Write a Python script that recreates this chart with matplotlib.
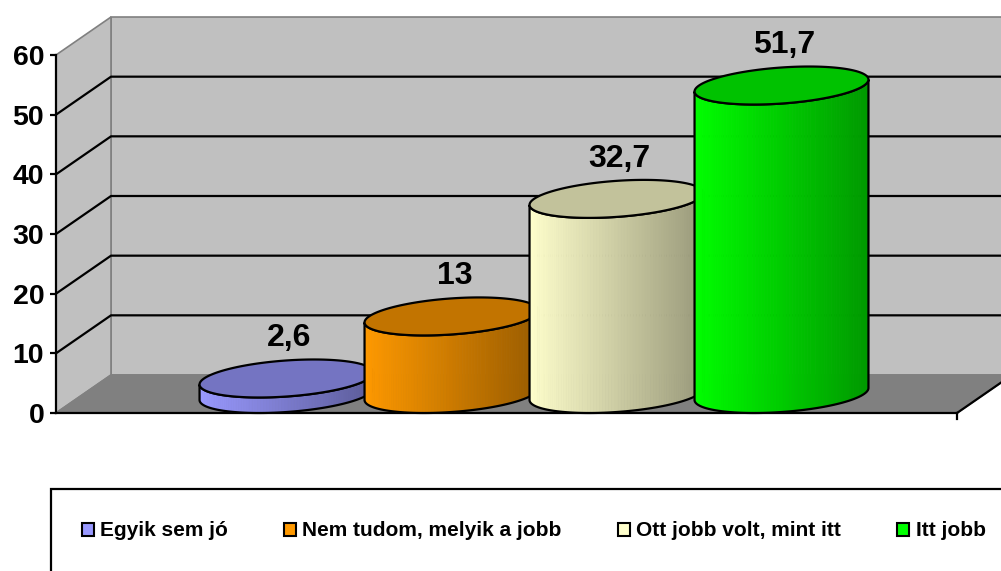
import numpy as np
import matplotlib
matplotlib.use("Agg")
import matplotlib.pyplot as plt
import matplotlib.patches as mpatches
from matplotlib.collections import PolyCollection

plt.rcParams.update({
    "font.family": ["Liberation Sans", "DejaVu Sans"],
    "font.weight": "bold",
})

# data
labels = ["Egyik sem jó", "Nem tudom, melyik a jobb", "Ott jobb volt, mint itt", "Itt jobb"]
values = [2.6, 13, 32.7, 51.7]
colors = ["#9999FF", "#FF9900", "#FFFFCC", "#00FF00"]
yticks = [0, 10, 20, 30, 40, 50, 60]

# 3d look: depth offset of the floor/back wall in data units
DX = 55 / 901          # along x (fraction of floor width)
DY = 38 / (358 / 60)   # along y (value units)
W = 165 / 901          # cylinder width

fig = plt.figure(figsize=(10.01, 5.71), dpi=100)
ax = fig.add_axes([56 / 1001, (571 - 413) / 571, 901 / 1001, 358 / 571])
ax.set_xlim(0, 1)
ax.set_ylim(0, 60)
ax.patch.set_visible(False)

wall = "#C0C0C0"
edge = "#808080"
ymax = yticks[-1]

# back wall, side wall, floor
ax.add_patch(mpatches.Polygon([(DX, DY), (DX, ymax + DY), (1 + DX, ymax + DY), (1 + DX, DY)],
                              facecolor=wall, edgecolor=edge, lw=1.2, clip_on=False, zorder=0.5))
ax.add_patch(mpatches.Polygon([(0, 0), (0, ymax), (DX, ymax + DY), (DX, DY)],
                              facecolor=wall, edgecolor=edge, lw=1.2, clip_on=False, zorder=0.5))
ax.add_patch(mpatches.Polygon([(0, 0), (1, 0), (1 + DX, DY), (DX, DY)],
                              facecolor="#808080", edgecolor=edge, lw=1.2, clip_on=False, zorder=0.6))
ax.plot([1, 1 + DX], [0, DY], color="black", lw=1.6, clip_on=False, zorder=0.7)
ax.plot([1, 1], [0, -1.0], color="black", lw=1.6, clip_on=False, zorder=0.7)

for v in yticks[1:-1]:
    ax.plot([0, DX, 1 + DX], [v, v + DY, v + DY], color="black", lw=1.6,
            clip_on=False, zorder=1)

# cylinders
th_r = np.arctan2(DX, W)
th_l = th_r + np.pi


def pt(uc, theta, level):
    x = uc + W / 2 * np.cos(theta) + DX * (0.5 + 0.5 * np.sin(theta))
    y = level + DY * (0.5 + 0.5 * np.sin(theta))
    return x, y


for i, (val, col) in enumerate(zip(values, colors)):
    uc = 0.5 + (i - 1.5) * W
    base = np.array(matplotlib.colors.to_rgb(col))
    z = 3 + i * 0.1

    th = np.linspace(th_l, th_l + np.pi, 90)
    bx, by = pt(uc, th, 0)
    tx, ty = pt(uc, th, val)
    xmin, xmax = bx.min(), bx.max()
    polys, fcs = [], []
    for k in range(len(th) - 1):
        polys.append([(bx[k], by[k]), (bx[k + 1], by[k + 1]),
                      (tx[k + 1], ty[k + 1]), (tx[k], ty[k])])
        t = ((bx[k] + bx[k + 1]) / 2 - xmin) / (xmax - xmin)
        fcs.append(np.clip(base * (1.0 - 0.4 * t), 0, 1))
    pc = PolyCollection(polys, facecolors=fcs, edgecolors=fcs, linewidths=0.6,
                        clip_on=False, zorder=z)
    ax.add_collection(pc)

    outline = list(zip(bx, by)) + list(zip(tx[::-1], ty[::-1]))
    ax.add_patch(mpatches.Polygon(outline, closed=True, fill=False, edgecolor="black",
                                  lw=1.6, clip_on=False, zorder=z + 0.01))

    ta = np.linspace(0, 2 * np.pi, 200)
    ex, ey = pt(uc, ta, val)
    ax.add_patch(mpatches.Polygon(list(zip(ex, ey)), closed=True,
                                  facecolor=np.clip(base * 0.76, 0, 1), edgecolor="black",
                                  lw=1.6, clip_on=False, zorder=z + 0.02))

    txt = f"{val:g}".replace(".", ",")
    ax.annotate(txt, (uc + DX / 2, val + DY / 2), xytext=(2, 29),
                textcoords="offset points", ha="center", va="center",
                fontsize=23, fontweight="bold", zorder=10)

# axes styling
ax.set_xticks([])
ax.set_yticks(yticks)
ax.tick_params(axis="y", direction="out", length=4.5, width=1.6, pad=4, labelsize=20.5)
for s in ["top", "right"]:
    ax.spines[s].set_visible(False)
for s in ["left", "bottom"]:
    ax.spines[s].set_linewidth(1.6)
    ax.spines[s].set_color("black")
    ax.spines[s].set_zorder(2)

# legend
fig.patches.append(mpatches.Rectangle((51 / 1001, -0.1), 1.0, (571 - 489) / 571 + 0.1,
                                      transform=fig.transFigure, fill=False,
                                      edgecolor="black", lw=1.6))
handles = [mpatches.Patch(facecolor=c, edgecolor="black", linewidth=1.5) for c in colors]
fig.legend(handles, labels, ncol=4, loc="center left",
           bbox_to_anchor=(81.5 / 1001, 1 - 531 / 571), frameon=False,
           prop={"size": 15, "weight": "bold"}, handlelength=0.58, handleheight=0.58,
           handletextpad=0.3, columnspacing=2.7, borderpad=0, borderaxespad=0)

fig.savefig("out.png", dpi=100, facecolor="white")
